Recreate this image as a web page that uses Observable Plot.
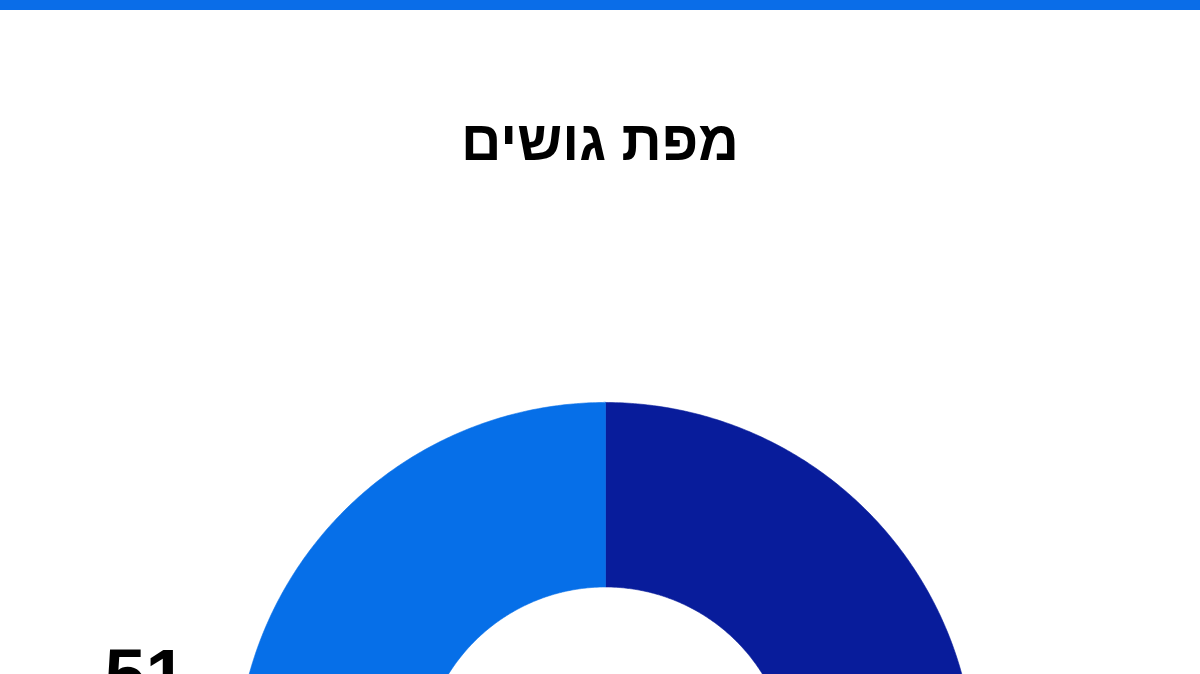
<!DOCTYPE html>
<html lang="he">
<head>
<meta charset="utf-8">
<script src="https://cdn.jsdelivr.net/npm/d3@7"></script>
<script src="https://cdn.jsdelivr.net/npm/@observablehq/plot@0.6"></script>
<style>
  html, body { margin: 0; padding: 0; background: #ffffff; }
  body { width: 1200px; height: 674px; overflow: hidden; position: relative;
         font-family: "Liberation Sans", Arial, "DejaVu Sans", sans-serif; }
  #bar { position: absolute; left: 0; top: 0; width: 1200px; height: 10px; background: #0a6de8; }
  #title { position: absolute; left: 0; top: 113px; width: 1200px; margin: 0;
           text-align: center; font-size: 56px; line-height: 56px; font-weight: 700; color: #000; }
  #chart { position: absolute; left: 0; top: 210px; }
</style>
</head>
<body>
<div id="bar"></div>
<h1 id="title" dir="rtl">מפת גושים</h1>
<div id="chart"></div>
<script>
// ---- data ----
const blocs = ["blocA", "blocB"];
const seats = [69, 51];
const seatLabels = ["69", "51"];
const blocColors = ["#081c9b", "#066fe8"];

// ---- geometry (donut drawn via a polar azimuthal projection) ----
const total = d3.sum(seats);
const outerPx = 369.5, innerPx = 185, labelPx = 473;
const ppd = outerPx / 60;                // pixels per degree of arc distance
const latOf = px => 90 - px / ppd;
const latOut = latOf(outerPx), latIn = latOf(innerPx), latLabel = latOf(labelPx);

function sector(lon0, lon1) {
  const n = Math.max(4, Math.ceil((lon1 - lon0) / 0.5));
  const ring = [[lon0, latOut]];
  for (let i = 0; i <= n; i++) ring.push([lon0 + (lon1 - lon0) * i / n, latIn]);
  for (let i = n; i >= 0; i--) ring.push([lon0 + (lon1 - lon0) * i / n, latOut]);
  return ring;
}

let acc = 0;
const sectors = [], labels = [];
blocs.forEach((b, i) => {
  const t0 = acc / total * 360, t1 = (acc + seats[i]) / total * 360;
  acc += seats[i];
  const lonA = 180 - t1, lonB = 180 - t0;     // clockwise from top
  sectors.push({type: "Feature", properties: {bloc: b},
    geometry: {type: "Polygon", coordinates: [sector(lonA, lonB)]}});
  labels.push({bloc: b, label: seatLabels[i], lon: 180 - (t0 + t1) / 2, lat: latLabel});
});

const projection = d3.geoAzimuthalEquidistant()
  .rotate([0, -90])
  .scale(ppd * 180 / Math.PI)
  .translate([605, 561.5]);

const chart = Plot.plot({
  width: 1200,
  height: 464,
  margin: 0,
  projection,
  color: {domain: blocs, range: blocColors},
  marks: [
    Plot.geo(sectors, {fill: d => d.properties.bloc, stroke: d => d.properties.bloc, strokeWidth: 0.6}),
    Plot.text(labels, {x: "lon", y: "lat", text: "label", fontSize: 74, fontWeight: "bold", dy: 16,
      fill: "#000", fontFamily: "'Liberation Sans', Arial, sans-serif"})
  ]
});
document.getElementById("chart").appendChild(chart);
</script>
</body>
</html>
